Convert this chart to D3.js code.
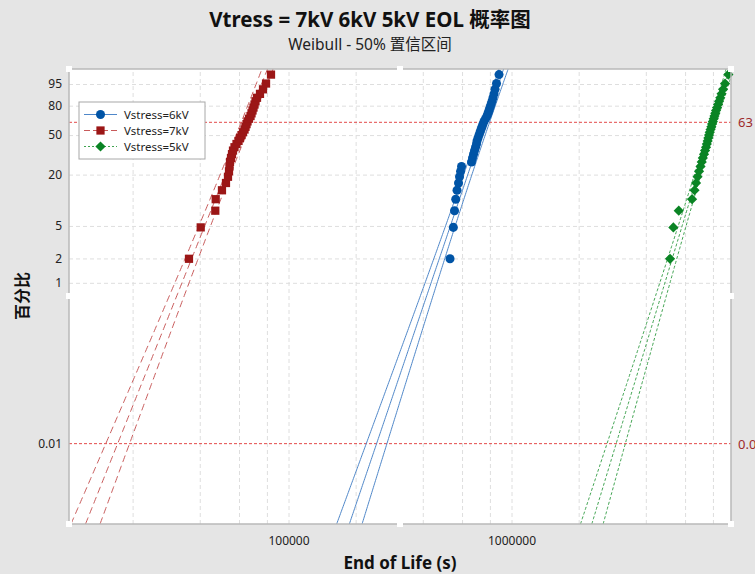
<!DOCTYPE html>
<html>
<head>
<meta charset="utf-8">
<script src="https://cdn.jsdelivr.net/npm/d3@7"></script>
<style>
    body { margin: 0; background: #e5e5e5; }
    text { font-family: "Noto Sans", "Noto Sans CJK SC", sans-serif; }
</style>
</head>
<body>
<div id="chart"></div>
<script>
// plotting positions (median ranks, %) shared by the three samples of 35
const rankPct = [1.98, 4.80, 7.63, 10.45, 13.28, 16.10, 18.93, 21.75, 24.58, 27.40,
    30.23, 33.05, 35.88, 38.70, 41.53, 44.35, 47.18, 50.00, 52.82, 55.65,
    58.47, 61.30, 64.12, 66.95, 69.77, 72.60, 75.42, 78.25, 81.07, 83.90,
    86.72, 89.55, 92.37, 95.20, 98.02];

// end of life (s), sorted
const eol6kV = [529900, 548300, 555200, 562100, 569700, 578600, 584600, 590700, 596800, 661500,
    668400, 675400, 682400, 689600, 696600, 700300, 707600, 714900, 722300, 729800,
    737400, 745000, 752800, 764500, 776400, 784500, 792600, 800900, 809200, 817700,
    826000, 834700, 843300, 856500, 878900];
const eol7kV = [35790, 40400, 46960, 47160, 50310, 52440, 53540, 54100, 54380, 54660,
    55230, 55800, 56380, 57260, 58460, 59690, 60620, 61560, 62520, 63500,
    64160, 64830, 65500, 66520, 67560, 68260, 68970, 69670, 70400, 71120,
    72240, 74500, 76860, 79300, 83470];
const eol5kV = [5138000, 5316000, 5621000, 6449000, 6617000, 6720000, 6825000, 6931000, 7039000, 7127000,
    7208000, 7298000, 7374000, 7451000, 7513000, 7575000, 7630000, 7686000, 7741000, 7806000,
    7871000, 7927000, 7993000, 8060000, 8127000, 8195000, 8261000, 8347000, 8433000, 8521000,
    8628000, 8744000, 8880000, 9066000, 9380000];

const seriesNames = ['Vstress=6kV', 'Vstress=7kV', 'Vstress=5kV'];
const seriesData = [eol6kV, eol7kV, eol5kV];
// weibull fit: shape, scale, and spread of the 50% bounds (ln units)
const fitShape = [8.19, 6.94, 9.16];
const fitScale = [764500, 64610, 8051000];
const ciBase = [0.0413, 0.0512, 0.032];
const ciSlope = [0.0113, 0.0128, 0.0102];

const xGrid = [2e4, 4e4, 6e4, 8e4, 1e5, 2e5, 4e5, 6e5, 8e5, 1e6, 2e6, 4e6, 6e6, 8e6];
const xTicks = [1e5, 1e6];
const yTicks = [95, 80, 50, 20, 5, 2, 1, 0.01];
const yTickLabels = ['95', '80', '50', '20', '5', '2', '1', '0.01'];
const yGrid = [95, 80, 50, 20, 5, 2, 1];
const refPct = [63.2, 0.01];
const refLabels = ['63', '0.01'];

const colors = ['#0054a6', '#9b1616', '#0a8424'];
const lineColors = ['#4f87c9', '#c85a5a', '#3fa350'];
const dashes = [null, '7,4', '3,2'];
const legendDashes = [null, '6,3', '2,2'];

const W = 755, H = 574;
const L = 69, R = 731, T = 69, B = 524;

const weib = p => Math.log(-Math.log(1 - p / 100));

const svg = d3.select('#chart').append('svg')
    .attr('width', W)
    .attr('height', H);

svg.append('rect').attr('width', W).attr('height', H).attr('fill', '#e5e5e5');
svg.append('rect')
    .attr('x', L).attr('y', T).attr('width', R - L).attr('height', B - T)
    .attr('fill', '#fff');

const x = d3.scaleLog().domain([10370, 9640000]).range([L, R]);
const y = d3.scaleLinear().domain([weib(0.001), weib(99)]).range([B, T]);

svg.append('defs').append('clipPath').attr('id', 'plotClip')
    .append('rect').attr('x', L).attr('y', T).attr('width', R - L).attr('height', B - T);

// grid
svg.append('g')
    .attr('transform', 'translate(0,' + B + ')')
    .call(d3.axisBottom(x).tickValues(xGrid).tickSize(-(B - T)).tickFormat(''))
    .call(g => g.select('.domain').remove())
    .call(g => g.selectAll('line').attr('stroke', '#dedede').attr('stroke-dasharray', '4,3'));

svg.append('g')
    .attr('transform', 'translate(' + L + ',0)')
    .call(d3.axisLeft(y).tickValues(yGrid.map(weib)).tickSize(-(R - L)).tickFormat(''))
    .call(g => g.select('.domain').remove())
    .call(g => g.selectAll('line').attr('stroke', '#dedede').attr('stroke-dasharray', '4,3'));

// reference lines
refPct.forEach((p, i) => {
    svg.append('line')
        .attr('x1', L).attr('x2', R)
        .attr('y1', y(weib(p))).attr('y2', y(weib(p)))
        .attr('stroke', '#e34a4a').attr('stroke-width', 1)
        .attr('stroke-dasharray', '3,2');
    svg.append('text')
        .attr('x', R + 7).attr('y', y(weib(p)) + 5)
        .attr('font-size', 13).attr('fill', '#9e2a2a')
        .text(refLabels[i]);
});

// fit lines and bounds
const zs = d3.range(weib(0.001), weib(99) + 0.05, 0.05);
const fitG = svg.append('g').attr('clip-path', 'url(#plotClip)');
const line = d3.line().x(d => x(d[0])).y(d => y(d[1]));

seriesData.forEach((data, s) => {
    [-1, 0, 1].forEach(k => {
        const pts = zs.map(z => {
            const sd = Math.sqrt(ciBase[s] ** 2 + ciSlope[s] ** 2 * (z + 0.5) ** 2);
            const lt = Math.log(fitScale[s]) + z / fitShape[s] + k * sd;
            return [Math.exp(lt), z];
        });
        fitG.append('path')
            .attr('d', line(pts))
            .attr('fill', 'none')
            .attr('stroke', lineColors[s])
            .attr('stroke-width', 1)
            .attr('stroke-dasharray', dashes[s]);
    });
});

// points
const symbols = [
    d3.symbol().type(d3.symbolCircle).size(64),
    d3.symbol().type(d3.symbolSquare).size(68),
    d3.symbol().type(d3.symbolSquare).size(52)
];
const rot = [0, 0, 45];

seriesData.forEach((data, s) => {
    svg.append('g').selectAll('path')
        .data(data).enter()
        .append('path')
        .attr('d', symbols[s])
        .attr('transform', (d, i) => 'translate(' + x(d) + ',' + y(weib(rankPct[i])) + ') rotate(' + rot[s] + ')')
        .attr('fill', colors[s]);
});

// axes labels
svg.append('g')
    .attr('transform', 'translate(0,' + B + ')')
    .call(d3.axisBottom(x).tickValues(xTicks).tickSize(0).tickPadding(12).tickFormat(d3.format('d')))
    .call(g => g.select('.domain').remove())
    .call(g => g.selectAll('text').attr('font-size', 12).attr('fill', '#222')
        .style('font-family', '"Noto Sans", sans-serif'));

svg.append('g')
    .attr('transform', 'translate(' + L + ',0)')
    .call(d3.axisLeft(y).tickValues(yTicks.map(weib)).tickSize(0).tickPadding(7)
        .tickFormat((d, i) => yTickLabels[i]))
    .call(g => g.select('.domain').remove())
    .call(g => g.selectAll('text').attr('font-size', 12).attr('fill', '#222')
        .style('font-family', '"Noto Sans", sans-serif'));

// frame
svg.append('rect')
    .attr('x', L).attr('y', T).attr('width', R - L).attr('height', B - T)
    .attr('fill', 'none').attr('stroke', '#b9b9b9').attr('stroke-width', 1.5);

// legend
const lg = svg.append('g');
lg.append('rect')
    .attr('x', 79).attr('y', 102).attr('width', 126).attr('height', 57)
    .attr('fill', '#fff').attr('stroke', '#a8a8a8');
seriesNames.forEach((name, s) => {
    const ly = 114.5 + s * 16;
    lg.append('line')
        .attr('x1', 84).attr('x2', 117).attr('y1', ly).attr('y2', ly)
        .attr('stroke', lineColors[s]).attr('stroke-width', 1.2)
        .attr('stroke-dasharray', legendDashes[s]);
    lg.append('path')
        .attr('d', symbols[s])
        .attr('transform', 'translate(100.5,' + ly + ') rotate(' + rot[s] + ')')
        .attr('fill', colors[s]);
    lg.append('text')
        .attr('x', 124).attr('y', ly + 4)
        .attr('font-size', 11.5).attr('fill', '#222')
        .text(name);
});

// titles
svg.append('text')
    .attr('x', 370).attr('y', 27)
    .attr('text-anchor', 'middle')
    .attr('font-size', 20.5).attr('font-weight', 'bold').attr('fill', '#111')
    .text('Vtress = 7kV 6kV 5kV EOL 概率图');
svg.append('text')
    .attr('x', 370).attr('y', 50)
    .attr('text-anchor', 'middle')
    .attr('font-size', 15.5).attr('fill', '#222')
    .text('Weibull - 50% 置信区间');
svg.append('text')
    .attr('x', 400).attr('y', 569)
    .attr('text-anchor', 'middle')
    .attr('font-size', 17).attr('font-weight', 'bold').attr('fill', '#111')
    .text('End of Life (s)');
svg.append('text')
    .attr('transform', 'translate(28,296) rotate(-90)')
    .attr('text-anchor', 'middle')
    .attr('font-size', 16).attr('font-weight', 'bold').attr('fill', '#111')
    .text('百分比');

// selection handles
const handles = [[L, T], [400, T], [R, T], [L, 296], [R, 296], [L, B], [400, B], [R, B]];
svg.append('g').selectAll('rect')
    .data(handles).enter()
    .append('rect')
    .attr('x', d => d[0] - 3).attr('y', d => d[1] - 3)
    .attr('width', 6).attr('height', 6)
    .attr('fill', '#fff');
</script>
</body>
</html>
